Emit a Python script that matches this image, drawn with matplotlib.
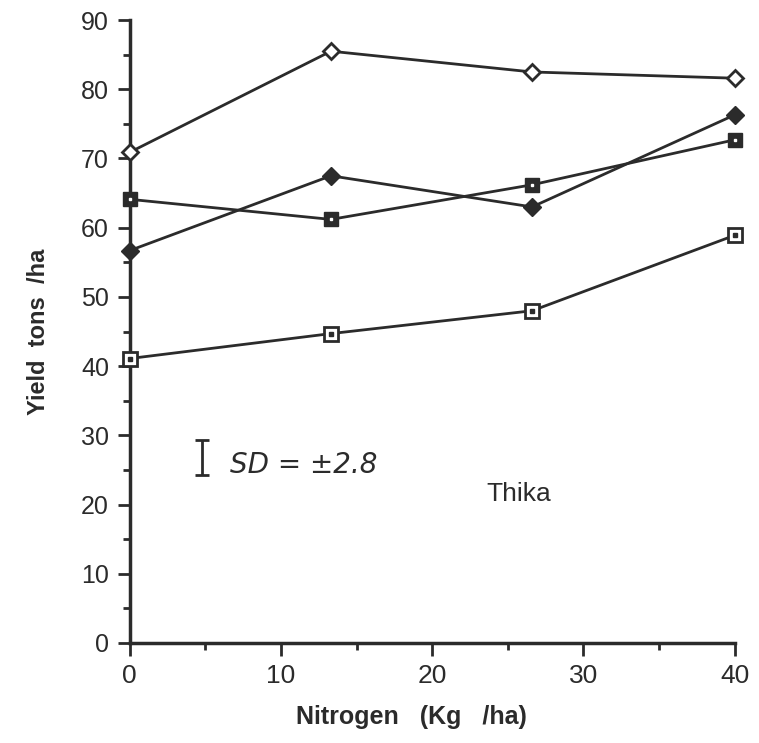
import matplotlib.pyplot as plt

plt.rcParams["font.family"] = ["Liberation Sans", "DejaVu Sans"]

nitrogen = [0, 13.3, 26.6, 40]
open_diamond = [70.9, 85.5, 82.5, 81.6]
filled_diamond = [56.7, 67.5, 63.0, 76.3]
filled_square = [64.1, 61.2, 66.2, 72.7]
open_square = [41.1, 44.7, 48.0, 58.9]

ink = "#2b2b2b"

fig = plt.figure(figsize=(7.59, 7.43), dpi=100)
ax = fig.add_axes([0.171, 0.1346, 0.797, 0.8384])

ax.plot(nitrogen, open_diamond, color=ink, lw=2, marker="D", ms=8,
        mfc="white", mec=ink, mew=2, zorder=3, clip_on=False)
ax.plot(nitrogen, filled_diamond, color=ink, lw=2, marker="D", ms=9,
        mfc=ink, mec=ink, zorder=3, clip_on=False)
ax.plot(nitrogen, filled_square, color=ink, lw=2, marker="s", ms=10,
        mfc=ink, mec=ink, zorder=3, clip_on=False)
ax.plot(nitrogen, filled_square, ls="none", marker="s", ms=2,
        mfc="white", mec="white", zorder=4, clip_on=False)
ax.plot(nitrogen, open_square, color=ink, lw=2, marker="s", ms=10,
        mfc="white", mec=ink, mew=2, zorder=3, clip_on=False)
ax.plot(nitrogen, open_square, ls="none", marker="s", ms=2.5,
        mfc=ink, mec=ink, zorder=4, clip_on=False)

# SD bar and annotation
ax.errorbar([4.8], [26.8], yerr=[2.6], color=ink, lw=2, capsize=5, capthick=2)
ax.text(6.6, 24.6, "SD = \u00b12.8", fontsize=20, color=ink,
        family=["DejaVu Sans"], fontstyle="oblique", fontweight="light")
ax.text(23.6, 20.5, "Thika", fontsize=19, color=ink)

ax.set_xlim(0, 40)
ax.set_ylim(0, 90)
ax.set_xticks(range(0, 41, 10))
ax.set_xticks(range(0, 41, 5), minor=True)
ax.set_yticks(range(0, 91, 10))
ax.set_yticks(range(0, 91, 5), minor=True)

for side in ["top", "right"]:
    ax.spines[side].set_visible(False)
ax.spines["left"].set_linewidth(2.5)
ax.spines["bottom"].set_linewidth(2.5)
ax.spines["left"].set_color(ink)
ax.spines["bottom"].set_color(ink)

ax.tick_params(axis="both", which="major", length=9, width=2, color=ink,
               labelsize=18, labelcolor=ink, pad=6)
ax.tick_params(axis="x", which="major", labelsize=19)
ax.tick_params(axis="both", which="minor", length=5, width=2, color=ink)

ax.set_xlabel("Nitrogen   (Kg   /ha)", fontsize=18, fontweight="bold",
              color=ink)
ax.xaxis.set_label_coords(0.465, -0.1)
ax.set_ylabel("Yield  tons  /ha", fontsize=17, fontweight="bold",
              color=ink, labelpad=22)

fig.savefig("out.png", dpi=100)
